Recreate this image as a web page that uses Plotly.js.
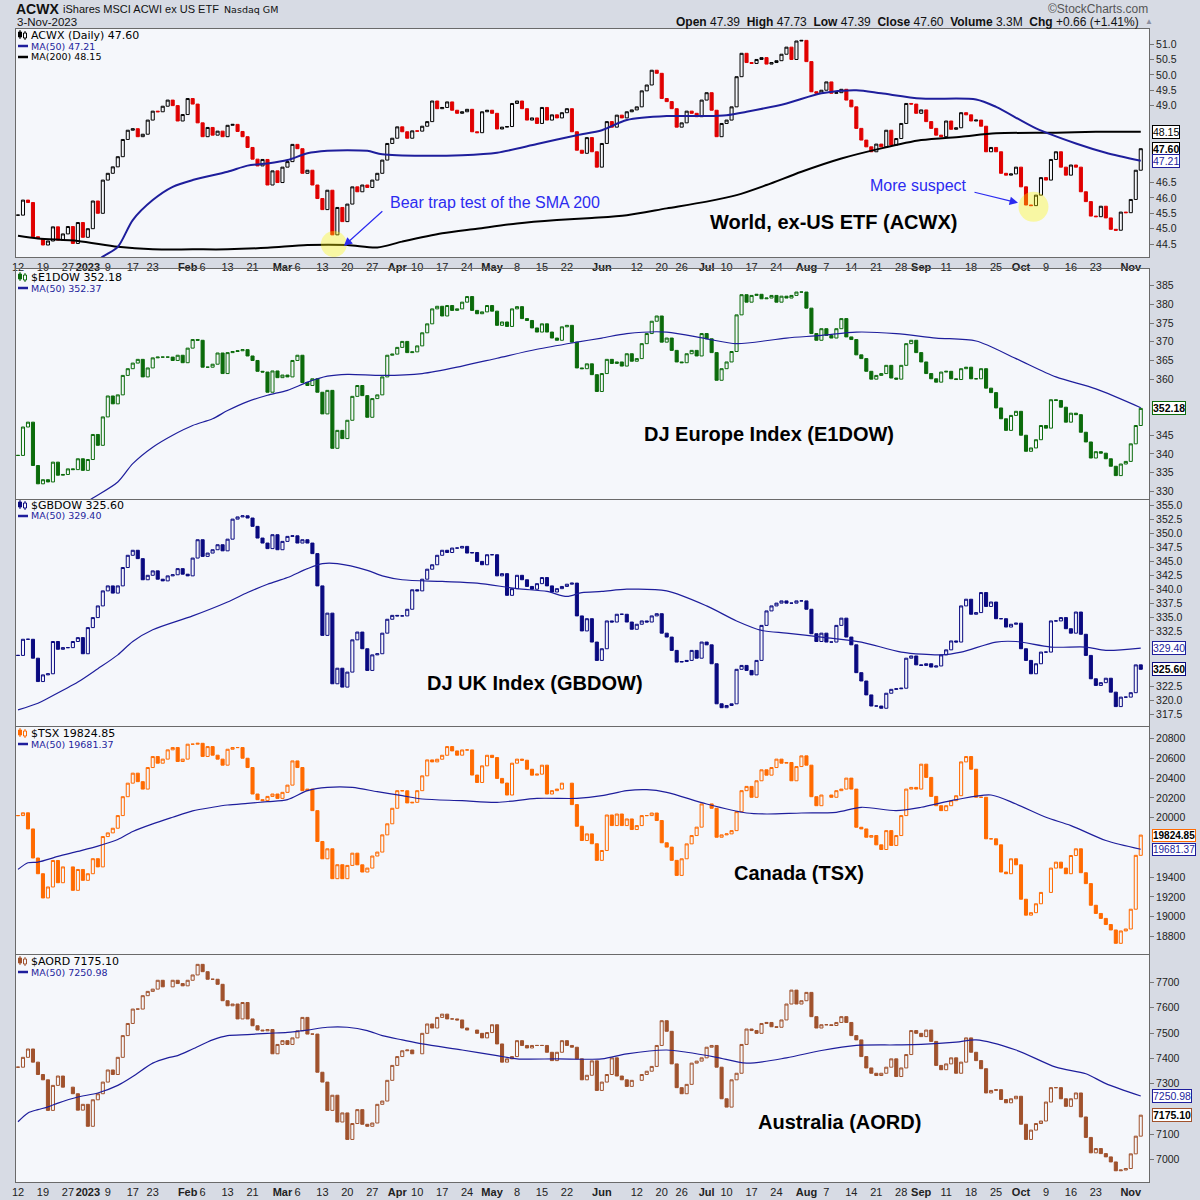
<!DOCTYPE html>
<html>
<head>
<meta charset="utf-8">
<title>ACWX and world indexes</title>
<script src="https://cdn.plot.ly/plotly-3.0.1.min.js"></script>
<style>
  html, body { margin: 0; padding: 0; background: #D7DBE4; }
  #chart { width: 1200px; height: 1200px; }
</style>
</head>
<body>
<div id="chart"></div>
<script>
// Values: one close per US trading day, 12-Dec-2022 (index 0) .. 3-Nov-2023 (index 225).
// null = that market was shut on the day.

const tickIdx = [0, 5, 10, 14, 18, 23, 27, 34, 37, 42, 47, 53, 56, 61, 66, 71, 76, 80, 85, 90, 95, 100, 105, 110,
  117, 124, 129, 133, 138, 142, 147, 152, 158, 162, 167, 172, 177, 181, 186, 191, 196, 201, 206, 211, 216, 223];
const tickText = ['12', '19', '27', '<b>2023</b>', '9', '17', '23', '<b>Feb</b>', '6', '13', '21', '<b>Mar</b>', '6', '13', '20', '27',
  '<b>Apr</b>', '10', '17', '24', '<b>May</b>', '8', '15', '22', '<b>Jun</b>', '12', '20', '26', '<b>Jul</b>', '10', '17', '24',
  '<b>Aug</b>', '7', '14', '21', '28', '<b>Sep</b>', '11', '18', '25', '<b>Oct</b>', '9', '16', '23', '<b>Nov</b>'];

// ACWX quote line
const quoteOpen = 47.39, quoteHigh = 47.73, quoteLow = 47.39, quoteClose = 47.60;
const quoteVolume = '3.3M', quoteChg = '+0.66', quoteChgPct = '+1.41%';

const acwxClose = [
  45.44, 45.93, 45.85, 44.74, 44.68, 44.47, 44.6, 45.06, 44.63, 44.83,
  45.07, 44.52, 45.2, 44.72, 45.0, 45.9, 45.5, 46.58, 46.8, 47.01,
  47.34, 47.9, 48.2, 48.25, 47.99, 48.07, 48.53, 48.82, 48.8, 48.98,
  49.18, 49.0, 48.5, 48.71, 49.23, 49.05, 48.44, 47.99, 48.29, 48.04,
  48.17, 47.99, 48.36, 48.39, 48.16, 47.99, 47.64, 47.26, 47.04, 47.25,
  46.42, 46.88, 46.5, 47.0, 47.18, 47.74, 47.6, 46.8, 46.9, 46.42,
  45.98, 45.62, 46.25, 44.8, 45.69, 45.23, 45.8, 46.36, 46.2, 46.42,
  46.34, 46.58, 46.8, 47.23, 47.77, 47.94, 48.31, 48.15, 47.94, 48.18,
  48.17, 48.33, 48.48, 49.15, 48.9, 48.94, 49.12, 48.85, 48.75, 48.8,
  48.88, 48.15, 48.12, 48.8, 48.85, 48.75, 48.24, 48.3, 48.32, 49.07,
  49.15, 48.9, 48.53, 48.6, 48.42, 48.94, 48.53, 48.7, 48.6, 48.77,
  48.9, 48.15, 47.55, 47.45, 47.96, 47.5, 47.0, 47.77, 48.48, 48.3,
  48.69, 48.6, 48.8, 48.86, 48.96, 49.48, 49.67, 50.15, 50.05, 49.23,
  49.13, 48.9, 48.3, 48.44, 48.82, 48.75, 48.64, 49.18, 49.42, 48.85,
  47.99, 48.42, 48.53, 48.96, 49.94, 50.7, 50.4, 50.37, 50.5, 50.56,
  50.35, 50.4, 50.46, 50.67, 50.9, 50.5, 51.1, 51.12, 50.43, 49.45,
  49.4, 49.5, 49.77, 49.4, 49.42, 49.53, 49.18, 48.96, 48.26, 47.88,
  47.66, 47.5, 47.75, 47.66, 48.2, 47.72, 47.93, 48.42, 49.07, 49.05,
  48.75, 48.86, 48.48, 48.26, 48.04, 47.99, 48.5, 48.23, 48.28, 48.77,
  48.7, 48.5, 48.53, 48.33, 47.5, 47.64, 47.5, 46.8, 46.74, 46.78,
  47.0, 46.36, 45.77, 45.75, 46.09, 46.66, 46.58, 47.25, 47.5, 47.0,
  46.74, 47.07, 47.0, 46.2, 45.88, 45.41, 45.39, 45.73, 45.35, 44.98,
  44.95, 45.54, 45.52, 45.95, 46.9, 47.60
];
const acwxMa50Idx = [12, 17, 20, 23, 27, 31, 35, 42, 46, 50, 54, 58, 62, 66, 70, 73, 81, 89, 96, 104, 112, 117,
  122, 130, 138, 142, 146, 154, 161, 168, 173, 181, 192, 196, 204, 212, 218, 225];
const acwxMa50 = [43.5, 44.09, 44.41, 45.28, 45.93, 46.36, 46.58, 46.85, 47.05, 47.12, 47.23, 47.45, 47.53, 47.55, 47.53, 47.42,
  47.37, 47.39, 47.47, 47.75, 48.04, 48.2, 48.53, 48.66, 48.66, 48.69, 48.8, 49.07, 49.4, 49.5, 49.4, 49.23, 49.2, 48.96,
  48.26, 47.77, 47.47, 47.21];
const acwxMa200Idx = [0, 4, 12, 20, 27, 35, 42, 50, 58, 66, 72, 77, 85, 92, 100, 108, 115, 122, 130, 138, 144, 150,
  157, 165, 173, 181, 189, 196, 208, 216, 225];
const acwxMa200 = [44.77, 44.68, 44.6, 44.41, 44.33, 44.33, 44.33, 44.38, 44.47, 44.47, 44.39, 44.58, 44.85, 45.0, 45.17,
  45.28, 45.35, 45.44, 45.66, 45.88, 46.09, 46.42, 46.85, 47.28, 47.61, 47.88, 47.99, 48.1, 48.12, 48.15, 48.15];

const e1dowClose = [
  339.6, 347.2, 348.5, 336.9, 332.0, 333.1, 332.5, 337.8, 334.3, 334.5,
  336.0, 335.8, 338.7, 335.6, 338.5, 345.2, 342.3, 349.9, 355.5, 353.4,
  355.8, 361.0, 362.8, 364.3, 365.3, 360.6, 363.0, 365.7, 365.9, 365.9,
  365.9, 365.0, 366.4, 364.4, 368.3, 370.6, 370.4, 363.2, 363.2, 364.0,
  367.0, 361.5, 367.1, 367.4, 367.6, 367.9, 366.2, 365.0, 362.1, 361.9,
  356.5, 362.2, 360.4, 361.1, 360.6, 365.0, 366.4, 359.1, 358.3, 360.1,
  356.5, 350.7, 357.0, 341.5, 346.3, 344.1, 349.0, 355.4, 358.3, 355.6,
  349.8, 354.8, 355.8, 360.6, 366.4, 366.7, 368.5, 370.1, 367.1, 367.3,
  368.9, 372.4, 374.8, 378.8, 379.5, 376.9, 379.7, 378.4, 378.8, 380.6,
  382.1, 378.4, 377.5, 378.0, 379.7, 378.2, 374.4, 375.3, 374.1, 378.8,
  379.4, 376.2, 375.7, 373.7, 372.6, 374.8, 372.6, 371.0, 370.4, 374.0,
  374.4, 369.9, 363.0, 362.8, 364.1, 361.2, 356.7, 361.5, 365.3, 364.2,
  364.6, 363.5, 366.8, 364.8, 365.5, 369.5, 372.2, 375.5, 376.9, 369.9,
  371.0, 367.7, 364.6, 364.4, 366.8, 367.7, 366.2, 372.2, 370.8, 367.1,
  359.7, 362.8, 364.6, 367.4, 377.2, 382.6, 380.6, 382.4, 382.7, 381.5,
  381.7, 382.4, 380.6, 382.2, 381.7, 382.4, 383.3, 383.3, 379.0, 372.2,
  370.4, 373.5, 371.7, 371.0, 373.5, 376.2, 371.3, 370.6, 366.5, 365.5,
  362.1, 360.0, 361.0, 361.5, 363.7, 360.3, 360.0, 363.7, 369.5, 370.4,
  367.1, 364.6, 361.5, 360.1, 359.2, 361.9, 362.1, 360.1, 359.9, 362.8,
  363.2, 360.1, 360.1, 362.8, 357.6, 356.4, 352.3, 349.4, 346.3, 350.3,
  351.4, 345.0, 340.7, 341.6, 343.8, 347.6, 346.9, 354.5, 354.3, 352.5,
  348.5, 350.9, 350.5, 345.8, 343.2, 338.9, 340.6, 340.2, 338.7, 336.7,
  334.2, 337.3, 338.0, 342.7, 347.6, 352.18
];
const e1dowMa50Idx = [13, 15, 20, 23, 27, 31, 35, 39, 42, 46, 50, 54, 58, 62, 66, 73, 81, 89, 96, 104, 112, 117,
  122, 130, 138, 144, 154, 161, 168, 176, 184, 192, 200, 208, 216, 225];
const e1dowMa50 = [326.5, 328.2, 332.5, 337.4, 341.8, 345.0, 347.6, 349.4, 351.6, 354.0, 355.7, 357.0, 359.2, 360.8,
  361.3, 361.0, 361.5, 363.5, 365.6, 368.0, 369.9, 371.0, 372.2, 372.6, 370.8, 369.5, 371.0, 371.7, 372.6, 372.2,
  371.0, 370.2, 365.5, 360.6, 357.4, 352.37];

const gbdowClose = [
  328.1, 331.0, 331.0, 327.6, 323.4, 324.6, 324.8, 330.6, 329.2, 329.5,
  329.5, 330.6, 331.3, 328.4, 333.1, 334.9, 337.0, 339.7, 340.6, 339.3,
  340.6, 343.9, 346.1, 347.0, 345.5, 341.7, 342.5, 343.3, 341.8, 341.5,
  342.4, 342.6, 343.7, 342.7, 342.4, 345.6, 348.9, 345.9, 346.5, 347.1,
  348.0, 346.9, 349.0, 352.6, 353.0, 353.2, 352.8, 351.3, 349.2, 348.3,
  347.3, 349.8, 347.1, 348.6, 349.5, 349.6, 348.3, 348.9, 348.3, 346.4,
  340.6, 331.7, 335.7, 323.0, 325.8, 322.4, 325.1, 330.9, 332.3, 329.3,
  325.4, 328.2, 328.4, 332.1, 334.6, 335.3, 335.2, 335.2, 336.4, 339.9,
  339.7, 341.8, 343.6, 344.4, 346.1, 347.0, 346.6, 347.4, 347.4, 347.7,
  346.5, 346.6, 345.0, 344.4, 346.2, 346.2, 342.4, 342.8, 338.9, 340.1,
  342.5, 341.7, 340.5, 340.0, 341.0, 342.1, 340.6, 339.5, 340.1, 340.5,
  340.9, 341.1, 335.2, 332.5, 334.7, 330.5, 327.2, 329.3, 334.3, 334.1,
  335.5, 335.5, 334.1, 332.8, 333.7, 334.3, 334.1, 335.2, 335.6, 332.1,
  331.4, 329.0, 326.9, 327.0, 327.2, 329.0, 327.6, 330.5, 330.0, 326.6,
  319.4, 318.7, 319.1, 319.4, 325.6, 326.3, 325.4, 324.6, 327.2, 333.5,
  336.1, 337.0, 337.5, 337.9, 337.5, 337.5, 337.9, 337.9, 336.4, 332.0,
  330.6, 332.1, 330.5, 330.5, 333.5, 334.8, 331.4, 330.0, 325.0, 323.5,
  321.0, 319.0, 319.0, 318.6, 321.3, 322.0, 322.1, 322.2, 327.6, 328.0,
  326.4, 326.3, 326.6, 326.0, 326.2, 328.2, 329.1, 330.7, 330.5, 337.0,
  338.2, 335.5, 335.8, 339.4, 336.9, 337.7, 334.7, 334.7, 333.2, 333.7,
  333.9, 329.3, 327.2, 324.8, 326.6, 328.7, 328.7, 334.3, 334.3, 334.9,
  332.9, 332.1, 335.9, 331.9, 328.1, 323.9, 322.7, 323.2, 324.0, 321.5,
  318.9, 320.6, 320.6, 321.4, 326.4, 325.60
];
const gbdowMa50Idx = [0, 4, 6, 12, 16, 20, 23, 27, 35, 42, 46, 50, 54, 58, 61, 64, 70, 73, 77, 85, 92, 100, 106, 110,
  113, 117, 122, 130, 138, 144, 149, 154, 161, 169, 177, 185, 189, 196, 200, 207, 214, 218, 225];
const gbdowMa50 = [318.3, 319.5, 320.4, 323.3, 325.7, 328.2, 330.6, 332.7, 335.2, 337.7, 339.4, 340.9, 342.1, 343.7,
  344.6, 344.6, 343.4, 342.4, 341.7, 341.4, 341.1, 340.1, 339.6, 338.7, 339.4, 339.6, 340.0, 339.7, 337.0, 334.3,
  332.6, 332.1, 331.4, 330.5, 328.7, 328.2, 328.7, 330.5, 330.6, 329.6, 329.6, 329.0, 329.40];

const tsxClose = [
  20022, 20050, 19887, 19593, 19434, 19189, 19300, 19568, 19343, 19503,
  null, 19266, 19477, 19367, 19434, 19586, 19503, 19810, 19847, 19894,
  20022, 20213, 20350, 20451, 20365, 20290, 20508, 20619, 20552, 20593,
  20687, 20710, 20569, 20593, 20744, 20744, 20753, 20620, 20720, 20633,
  20593, 20532, 20693, 20710, 20710, 20602, 20508, 20240, 20183, 20173,
  20216, 20240, 20196, 20257, 20330, 20575, 20508, 20274, 20290, 20072,
  19760, 19585, 19686, 19384, 19525, 19384, 19518, 19642, 19524, 19451,
  19491, 19613, 19653, 19827, 19939, 20096, 20274, 20273, 20150, 20156,
  20274, 20424, 20585, 20565, 20592, 20632, 20720, 20676, 20633, 20686,
  20686, 20432, 20357, 20525, 20632, 20609, 20398, 20351, 20230, 20552,
  20593, 20582, 20491, 20431, 20441, 20532, 20240, 20274, 20290, 20350,
  null, 20133, 19914, 19770, 19837, 19737, 19569, 19669, 20028, 19921,
  20038, 19921, 19988, 19881, 19921, 20022, 20022, 20048, 19972, 19747,
  19703, 19569, 19417, 19585, 19736, 19820, 19905, 20140, null, 20096,
  19803, 19827, 19837, 19870, 20062, 20274, 20317, 20207, 20374, 20485,
  20431, 20508, 20593, 20552, 20559, 20374, 20518, 20626, 20532, 20213,
  20122, 20230, null, 20207, 20274, 20290, 20401, 20290, 19904, 19887,
  19803, 19820, 19726, 19679, 19870, 19720, 19820, 20022, 20290, 20307,
  20290, 20542, 20408, 20216, 20122, 20072, 20122, 20173, 20223, 20565,
  20619, 20491, 20207, 20207, 19787, 19787, 19726, 19451, 19434, 19585,
  19524, 19176, 19015, 19040, 19130, 19245, null, 19491, 19551, 19491,
  19434, 19618, 19686, 19444, 19334, 19115, 19032, 18982, 18920, 18865,
  18730, 18855, 18875, 19075, 19620, 19824.85
];
const tsxMa50Idx = [0, 2, 4, 8, 12, 16, 20, 23, 27, 31, 35, 39, 42, 46, 50, 54, 58, 62, 67, 72, 77, 81, 89, 96, 104,
  112, 117, 122, 126, 130, 138, 146, 150, 157, 164, 169, 176, 181, 188, 195, 200, 206, 211, 218, 225];
const tsxMa50 = [19478, 19545, 19552, 19609, 19660, 19713, 19780, 19861, 19938, 20005, 20069, 20106, 20129, 20146,
  20163, 20183, 20274, 20307, 20307, 20264, 20223, 20190, 20173, 20156, 20196, 20196, 20223, 20274, 20284, 20257,
  20139, 20048, 20038, 20048, 20055, 20106, 20072, 20106, 20183, 20230, 20139, 20005, 19921, 19770, 19681.37];

const aordClose = [
  7365, 7404, 7437, 7385, 7336, 7315, 7194, 7293, 7330, 7286,
  null, 7260, 7195, 7218, 7131, 7236, 7260, 7306, 7354, 7336,
  7404, 7490, 7538, 7595, 7595, 7648, 7665, 7674, 7709, 7683,
  null, 7709, 7696, 7687, 7709, 7730, 7772, 7743, 7713, 7713,
  7693, 7628, 7608, 7615, 7556, 7621, 7556, 7529, 7512, 7509,
  7514, 7418, 7455, 7470, 7455, 7481, 7509, 7562, 7496, 7496,
  7345, 7306, 7194, 7254, 7148, 7184, 7079, 7142, 7197, 7139,
  7131, 7144, 7218, 7231, 7313, 7372, 7407, 7430, 7433, 7418,
  null, 7499, 7536, 7520, 7562, 7575, 7556, 7556, 7552, 7520,
  7512, null, 7499, 7481, 7502, 7533, 7457, 7385, 7398, 7407,
  7470, 7451, 7441, 7451, 7451, 7451, 7424, 7391, 7424, 7470,
  7451, 7444, 7398, 7315, 7333, 7390, 7273, 7306, 7336, 7402,
  7330, 7315, 7289, 7313, null, 7336, 7349, 7368, 7451, 7549,
  7507, 7378, 7284, 7260, 7297, 7381, 7389, 7402, 7444, 7451,
  7365, 7240, 7207, 7315, 7341, 7455, 7516, 7510, 7499, 7538,
  7542, 7525, 7523, 7552, 7615, 7670, 7615, 7628, 7661, 7565,
  7520, 7533, 7533, 7530, 7542, 7565, 7542, 7490, 7473, 7407,
  7362, 7341, 7332, 7341, 7365, 7398, 7328, 7362, 7415, 7510,
  7499, 7486, 7512, 7467, 7372, 7355, 7378, 7402, 7341, 7385,
  7481, 7424, 7391, 7359, 7263, 7273, 7276, 7237, 7224, 7240,
  7250, 7139, 7079, 7116, 7142, 7152, 7227, 7284, 7284, 7240,
  7210, 7240, 7263, 7168, 7087, 7026, 7043, 7023, 7010, 6990,
  6955, 6958, 6964, 7022, 7092, 7175.10
];
const aordMa50Idx = [0, 2, 4, 6, 8, 12, 16, 20, 23, 27, 30, 32, 35, 39, 42, 46, 50, 54, 58, 62, 66, 70, 73, 77, 81, 89,
  96, 100, 108, 117, 122, 130, 134, 140, 146, 154, 161, 168, 176, 181, 188, 192, 200, 208, 214, 218, 225];
const aordMa50 = [7149, 7184, 7197, 7208, 7223, 7247, 7263, 7293, 7328, 7381, 7402, 7411, 7437, 7473, 7490, 7494, 7499,
  7503, 7512, 7523, 7523, 7510, 7490, 7473, 7457, 7433, 7411, 7398, 7398, 7398, 7418, 7433, 7424, 7404, 7381, 7402,
  7431, 7451, 7453, 7455, 7464, 7473, 7433, 7365, 7339, 7300, 7250.98];

// ---- layout helpers ----
const W = 1200, H = 1200;
const PLOT_BG = '#F5F7FB';
const PAGE_BG = '#D7DBE4';
const MA_BLUE = '#1E1E9C';
const px = x => x / W;
const py = y => 1 - y / H;
const last = a => a[a.length - 1];

// panel tops/bottoms in pixels, y ranges, ticks, and the flags drawn on the right edge
const panels = [
  { top: 29, bottom: 257, range: [44.08, 51.49], ticks: [44.5, 51.0, 0.5], fmt: 1,
    flags: [[last(acwxMa200), '#000', '#000', false], [last(acwxClose), '#000', '#000', true], [last(acwxMa50), MA_BLUE, MA_BLUE, false]] },
  { top: 269, bottom: 499, range: [327.94, 389.47], ticks: [330, 385, 5], fmt: 0,
    flags: [[last(e1dowClose), '#0B6B0B', '#000', true]] },
  { top: 500, bottom: 726, range: [315.41, 356.04], ticks: [317.5, 355, 2.5], fmt: 1,
    flags: [[last(gbdowMa50), MA_BLUE, MA_BLUE, false], [last(gbdowClose), '#0A0A80', '#000', true]] },
  { top: 727, bottom: 954, range: [18622, 20918], ticks: [18800, 20800, 200], fmt: 0,
    flags: [[last(tsxClose), '#FF6A00', '#000', true], [last(tsxMa50), MA_BLUE, MA_BLUE, false]] },
  { top: 955, bottom: 1182, range: [6910.6, 7809], ticks: [7000, 7700, 100], fmt: 0,
    flags: [[last(aordMa50), MA_BLUE, MA_BLUE, false], [last(aordClose), '#A0522D', '#000', true]] }
];

function candles(closes, n, upColor, downColor) {
  const x = [], o = [], h = [], l = [], c = [];
  let prev = null;
  closes.forEach((v, i) => {
    if (v === null) return;
    const op = prev === null ? v : prev;
    x.push(i); o.push(op); c.push(v);
    h.push(Math.max(op, v)); l.push(Math.min(op, v));
    prev = v;
  });
  const sfx = n === 1 ? '' : n;
  return {
    type: 'candlestick', x: x, open: o, high: h, low: l, close: c,
    xaxis: 'x' + sfx, yaxis: 'y' + sfx,
    increasing: { line: { color: upColor, width: 1 }, fillcolor: PLOT_BG },
    decreasing: { line: { color: downColor, width: 1 }, fillcolor: downColor },
    whiskerwidth: 0, hoverinfo: 'skip', showlegend: false
  };
}

function maLine(idx, vals, n, color, width) {
  const sfx = n === 1 ? '' : n;
  return {
    type: 'scatter', mode: 'lines', x: idx, y: vals, xaxis: 'x' + sfx, yaxis: 'y' + sfx,
    line: { color: color, width: width, shape: 'spline', smoothing: 0.8 },
    hoverinfo: 'skip', showlegend: false
  };
}

const traces = [
  candles(acwxClose, 1, '#000000', '#E00000'),
  maLine(acwxMa200Idx, acwxMa200, 1, '#000000', 2),
  maLine(acwxMa50Idx, acwxMa50, 1, MA_BLUE, 2),
  candles(e1dowClose, 2, '#0B6B0B', '#0B6B0B'),
  maLine(e1dowMa50Idx, e1dowMa50, 2, MA_BLUE, 1.2),
  candles(gbdowClose, 3, '#0A0A80', '#0A0A80'),
  maLine(gbdowMa50Idx, gbdowMa50, 3, MA_BLUE, 1.2),
  candles(tsxClose, 4, '#FF6A00', '#FF6A00'),
  maLine(tsxMa50Idx, tsxMa50, 4, MA_BLUE, 1.2),
  candles(aordClose, 5, '#A0522D', '#A0522D'),
  maLine(aordMa50Idx, aordMa50, 5, MA_BLUE, 1.2)
];

const layout = {
  width: W, height: H,
  margin: { l: 0, r: 0, t: 0, b: 0 },
  paper_bgcolor: PAGE_BG,
  plot_bgcolor: PLOT_BG,
  font: { family: 'Liberation Sans, Arial, sans-serif', size: 11, color: '#222' },
  boxgap: 0.12,
  showlegend: false,
  annotations: [],
  shapes: []
};
const A = layout.annotations, S = layout.shapes;

panels.forEach((p, k) => {
  const n = k + 1, sfx = n === 1 ? '' : n;
  const pxPerUnit = (p.bottom - p.top) / (p.range[1] - p.range[0]);
  // the value flags cover the tick labels they sit on
  const tv = [];
  for (let v = p.ticks[0]; v <= p.ticks[1] + 1e-9; v += p.ticks[2]) {
    const val = +v.toFixed(2);
    if (p.flags.every(f => Math.abs(f[0] - val) * pxPerUnit > 11)) tv.push(val);
  }
  layout['xaxis' + sfx] = {
    domain: [px(16), px(1149)], range: [-0.4, 226.65], anchor: 'y' + sfx,
    showgrid: false, zeroline: false, showline: true, mirror: true, linecolor: '#6A6A6A', linewidth: 1,
    tickvals: tickIdx, ticktext: tickText, ticks: '', tickangle: 0,
    showticklabels: n === 1 || n === 5,
    tickfont: { size: 11, color: '#222' },
    rangeslider: { visible: false }, fixedrange: true
  };
  layout['yaxis' + sfx] = {
    domain: [py(p.bottom), py(p.top)], range: p.range, anchor: 'x' + sfx, side: 'right',
    showgrid: false, zeroline: false, showline: true, mirror: true, linecolor: '#6A6A6A', linewidth: 1,
    tickvals: tv, ticktext: tv.map(v => v.toFixed(p.fmt)),
    ticks: 'outside', ticklen: 4, tickcolor: '#777',
    tickfont: { size: 10.5, color: '#222' }, fixedrange: true
  };
  p.flags.forEach(f => {
    A.push({
      xref: 'paper', yref: 'y' + sfx, x: px(1152), y: f[0], xanchor: 'left', yanchor: 'middle', showarrow: false,
      text: f[3] ? '<b>' + f[0].toFixed(2) + '</b>' : f[0].toFixed(2),
      bgcolor: '#FFFFFF', bordercolor: f[1], borderwidth: 1, borderpad: 0,
      font: { size: f[0] >= 10000 ? 10 : 10.5, color: f[2] }
    });
  });
});

// ---- header ----
function txt(x, y, text, size, opts) {
  A.push(Object.assign({
    xref: 'paper', yref: 'paper', x: px(x), y: py(y), text: text, showarrow: false,
    xanchor: 'left', yanchor: 'middle', font: { size: size, color: '#000' }
  }, opts || {}));
}
txt(14, 9, '<b>ACWX</b>', 14, { font: { size: 14, color: '#111' } });
txt(61, 9, 'iShares MSCI ACWI ex US ETF', 11, { font: { size: 11, color: '#111' } });
txt(222, 10, 'Nasdaq GM', 9.5, { font: { size: 9.5, color: '#111', family: 'DejaVu Sans' } });
txt(15, 22, '3-Nov-2023', 11.5, { font: { size: 11.5, color: '#111' } });
txt(1150, 9, '©StockCharts.com', 12, { xanchor: 'right', font: { size: 12, color: '#555' } });
txt(1141, 22, '<b>Open</b> ' + quoteOpen.toFixed(2) + '  <b>High</b> ' + quoteHigh.toFixed(2) +
  '  <b>Low</b> ' + quoteLow.toFixed(2) + '  <b>Close</b> ' + quoteClose.toFixed(2) +
  '  <b>Volume</b> ' + quoteVolume + '  <b>Chg</b> ' + quoteChg + ' (' + quoteChgPct + ')', 12,
  { xanchor: 'right', font: { size: 12, color: '#111' } });
txt(1143, 22, '▲', 8, { font: { size: 8, color: '#8A8FA0' } });

// ---- panel legends ----
function icon(y, color) {
  S.push({ type: 'line', xref: 'paper', yref: 'paper', x0: px(20), x1: px(20), y0: py(y - 5), y1: py(y + 4), line: { color: color, width: 1 } });
  S.push({ type: 'rect', xref: 'paper', yref: 'paper', x0: px(18.5), x1: px(21.5), y0: py(y - 3), y1: py(y + 2), fillcolor: color, line: { color: color, width: 1 } });
  S.push({ type: 'line', xref: 'paper', yref: 'paper', x0: px(25), x1: px(25), y0: py(y - 4), y1: py(y + 5), line: { color: color, width: 1 } });
  S.push({ type: 'rect', xref: 'paper', yref: 'paper', x0: px(23.5), x1: px(26.5), y0: py(y - 2), y1: py(y + 3), fillcolor: PLOT_BG, line: { color: color, width: 1 } });
}
function maKey(y, color, text) {
  S.push({ type: 'line', xref: 'paper', yref: 'paper', x0: px(18), x1: px(28), y0: py(y), y1: py(y), line: { color: color, width: 2.5 } });
  txt(29, y, text, 9.5, { font: { size: 9.5, color: color, family: 'DejaVu Sans' } });
}
const legends = [
  { y: 35, color: '#000', head: 'ACWX (Daily) ' + last(acwxClose).toFixed(2),
    ma: [['MA(50) ' + last(acwxMa50).toFixed(2), MA_BLUE], ['MA(200) ' + last(acwxMa200).toFixed(2), '#000']] },
  { y: 277, color: '#0B6B0B', head: '$E1DOW ' + last(e1dowClose).toFixed(2), ma: [['MA(50) ' + last(e1dowMa50).toFixed(2), MA_BLUE]] },
  { y: 505, color: '#0A0A80', head: '$GBDOW ' + last(gbdowClose).toFixed(2), ma: [['MA(50) ' + last(gbdowMa50).toFixed(2), MA_BLUE]] },
  { y: 733, color: '#FF6A00', head: '$TSX ' + last(tsxClose).toFixed(2), ma: [['MA(50) ' + last(tsxMa50).toFixed(2), MA_BLUE]] },
  { y: 961, color: '#A0522D', head: '$AORD ' + last(aordClose).toFixed(2), ma: [['MA(50) ' + last(aordMa50).toFixed(2), MA_BLUE]] }
];
legends.forEach(g => {
  icon(g.y, g.color);
  txt(29, g.y, g.head, 11, { font: { size: 11, color: '#000', family: 'DejaVu Sans' } });
  g.ma.forEach((m, j) => maKey(g.y + 11 * (j + 1), m[1], m[0]));
});

// ---- big panel titles ----
const bigTitles = [
  [834, 222, 'World, ex-US ETF (ACWX)'], [769, 434, 'DJ Europe Index (E1DOW)'], [535, 683, 'DJ UK Index (GBDOW)'],
  [799, 873, 'Canada (TSX)'], [839, 1122, 'Australia (AORD)']
];
bigTitles.forEach(t => txt(t[0], t[1], '<b>' + t[2] + '</b>', 20, { xanchor: 'center', font: { size: 20, color: '#000' } }));

// ---- commentary on the ACWX panel ----
const NOTE_BLUE = '#2B2BF0';
S.push({ type: 'circle', xref: 'x', yref: 'y', xsizemode: 'pixel', ysizemode: 'pixel', xanchor: 63.3, yanchor: 44.5,
  x0: -13, x1: 13, y0: -13, y1: 13, fillcolor: 'rgba(255,245,0,0.35)', line: { width: 0 }, layer: 'above' });
S.push({ type: 'circle', xref: 'x', yref: 'y', xsizemode: 'pixel', ysizemode: 'pixel', xanchor: 203.5, yanchor: 45.71,
  x0: -15, x1: 15, y0: -15, y1: 15, fillcolor: 'rgba(255,245,0,0.35)', line: { width: 0 }, layer: 'above' });
txt(388, 202, 'Bear trap test of the SMA 200', 16, { font: { size: 16, color: NOTE_BLUE } });
txt(868, 185, 'More suspect', 16, { font: { size: 16, color: NOTE_BLUE } });
A.push({ xref: 'x', yref: 'y', x: 65.3, y: 44.44, ax: 40, ay: -36, text: '', showarrow: true,
  arrowhead: 2, arrowsize: 1.4, arrowwidth: 1.2, arrowcolor: NOTE_BLUE, standoff: 0 });
A.push({ xref: 'x', yref: 'y', x: 200.4, y: 45.84, ax: -45, ay: -11, text: '', showarrow: true,
  arrowhead: 2, arrowsize: 1.4, arrowwidth: 1.2, arrowcolor: NOTE_BLUE, standoff: 0 });

Plotly.newPlot('chart', traces, layout, { displayModeBar: false, staticPlot: true });
</script>
</body>
</html>
